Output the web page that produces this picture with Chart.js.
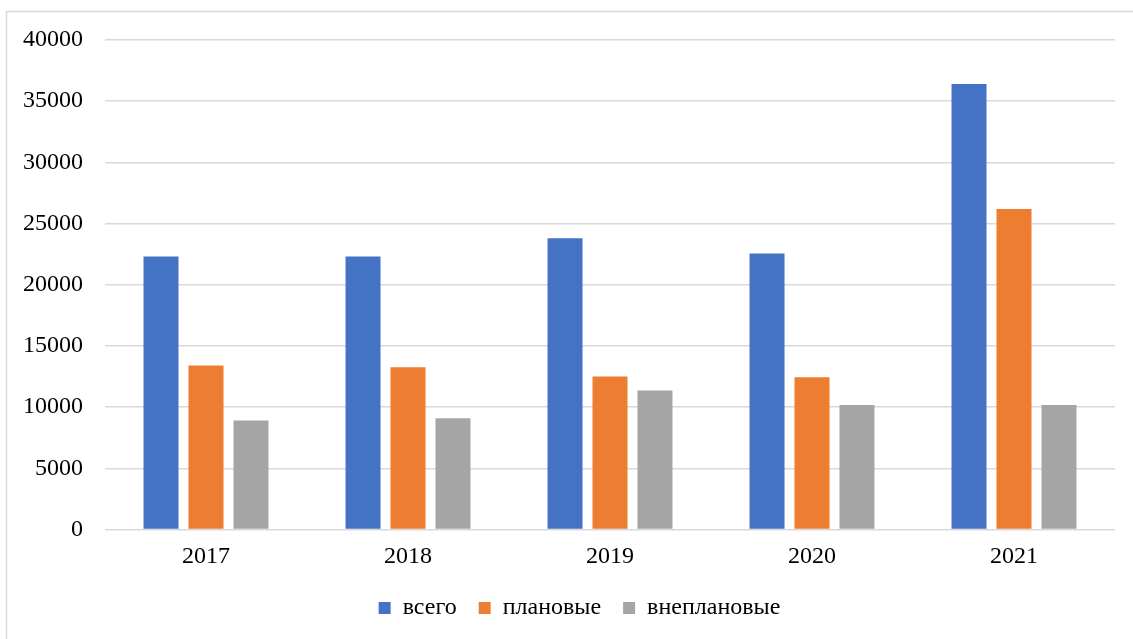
<!DOCTYPE html>
<html>
<head>
<meta charset="utf-8">
<script src="https://cdn.jsdelivr.net/npm/chart.js@4/dist/chart.umd.min.js"></script>
<style>
  html, body { margin: 0; padding: 0; background: #fff; }
  #wrap { width: 1133px; height: 639px; position: relative; }
</style>
</head>
<body>
<div id="wrap"><canvas id="chart"></canvas></div>
<script>
const years = ['2017', '2018', '2019', '2020', '2021'];
const total = [22300, 22300, 23800, 22550, 36400];
const planned = [13400, 13250, 12500, 12450, 26200];
const unplanned = [8900, 9100, 11350, 10170, 10170];

const seriesNames = ['всего', 'плановые', 'внеплановые'];
const seriesColors = ['#4472C4', '#ED7D31', '#A5A5A5'];

const FONT = '"Liberation Serif", "Times New Roman", serif';
Chart.defaults.font.family = FONT;
Chart.defaults.font.size = 24;
Chart.defaults.color = '#000';

// light frame like the Word/Excel chart border (only top and left are visible)
const framePlugin = {
  id: 'frame',
  beforeDraw(chart) {
    const ctx = chart.ctx;
    ctx.save();
    ctx.strokeStyle = '#d9d9d9';
    ctx.lineWidth = 1.5;
    ctx.beginPath();
    ctx.moveTo(6.5, chart.height);
    ctx.lineTo(6.5, 11.5);
    ctx.lineTo(chart.width, 11.5);
    ctx.stroke();
    ctx.restore();
  }
};

// the legend sits a bit right of the canvas centre in the original
const legendShift = {
  id: 'legendShift',
  afterLayout(chart) {
    if (chart.legend) {
      chart.legend.left += 22;
      chart.legend.right += 22;
    }
  }
};

const ctx = document.getElementById('chart');
new Chart(ctx, {
  type: 'bar',
  data: {
    labels: years,
    datasets: [
      { label: seriesNames[0], data: total, backgroundColor: seriesColors[0] },
      { label: seriesNames[1], data: planned, backgroundColor: seriesColors[1] },
      { label: seriesNames[2], data: unplanned, backgroundColor: seriesColors[2] }
    ]
  },
  options: {
    responsive: true,
    maintainAspectRatio: false,
    animation: false,
    devicePixelRatio: 1,
    datasets: {
      bar: { categoryPercentage: 0.668, barPercentage: 0.778 }
    },
    layout: { padding: { top: 40, right: 18, bottom: 9, left: 0 } },
    scales: {
      x: {
        afterFit: scale => { scale.height = 44.5; },
        grid: { display: false, drawTicks: false },
        border: { display: false },
        ticks: { color: '#000', font: { family: FONT, size: 24 }, padding: 13 }
      },
      y: {
        min: 0,
        max: 40000,
        afterFit: scale => { scale.width = 105; },
        grid: { color: '#d9d9d9', lineWidth: 1.5, drawTicks: false },
        border: { display: false },
        ticks: {
          stepSize: 5000,
          color: '#000',
          font: { family: FONT, size: 24 },
          padding: 22,
          callback: v => String(v)
        }
      }
    },
    plugins: {
      legend: {
        position: 'bottom',
        labels: {
          color: '#000',
          font: { family: FONT, size: 24 },
          boxWidth: 12,
          boxHeight: 12,
          padding: 22
        }
      },
      tooltip: { enabled: false }
    }
  },
  plugins: [framePlugin, legendShift]
});
</script>
</body>
</html>
